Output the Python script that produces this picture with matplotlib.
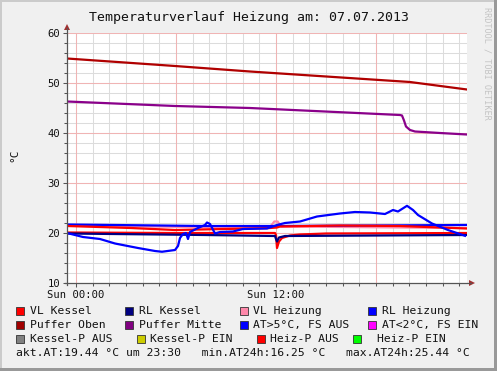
import numpy as np
import matplotlib
matplotlib.use("Agg")
import matplotlib.pyplot as plt
from matplotlib.patches import Rectangle, Polygon
from matplotlib.lines import Line2D

plt.rcParams['font.family'] = ['DejaVu Sans Mono', 'DejaVu Sans']

# ---------------- data (hours of the day, °C) ----------------
title = "Temperaturverlauf Heizung am: 07.07.2013"
x_tick_pos = [0, 12]
x_tick_labels = ["Sun 00:00", "Sun 12:00"]
y_ticks = [10, 20, 30, 40, 50, 60]

puffer_oben_t = [-0.54, 5.94, 10.44, 20.04, 23.46]
puffer_oben_v = [54.9, 53.4, 52.3, 50.2, 48.7]

puffer_mitte_t = [-0.54, 5.94, 10.44, 19.44, 19.56, 19.68, 19.80, 20.04, 20.34, 21.84, 23.46]
puffer_mitte_v = [46.3, 45.4, 45.0, 43.6, 43.5, 42.5, 41.3, 40.6, 40.3, 40.0, 39.7]

aussen_t = [-0.54, 0.42, 1.44, 2.34, 3.72, 4.74, 5.16, 5.94, 6.12, 6.24, 6.42, 6.60, 6.72,
            6.84, 7.32, 7.74, 7.86, 8.04, 8.34, 8.64, 9.42, 10.02, 11.46, 12.06, 12.54,
            13.44, 14.46, 15.84, 16.74, 17.64, 18.54, 19.02, 19.32, 19.86, 20.22, 20.52,
            21.36, 22.32, 23.34]
aussen_v = [20.0, 19.2, 18.8, 17.9, 17.0, 16.4, 16.25, 16.6, 17.4, 19.0, 19.8, 20.0, 18.8,
            20.2, 21.0, 21.6, 22.1, 21.8, 19.9, 20.2, 20.3, 20.8, 20.9, 21.6, 22.0,
            22.3, 23.3, 23.9, 24.2, 24.1, 23.8, 24.6, 24.3, 25.44, 24.6, 23.6,
            21.9, 20.6, 19.44]

vl_heizung_t = [-0.54, 11.6, 11.9, 12.1, 12.3, 23.46]
vl_heizung_v = [21.5, 21.0, 22.3, 22.3, 21.3, 21.0]

vl_kessel_t = [-0.54, 6.0, 11.94, 12.0, 12.06, 12.18, 12.36, 12.84, 13.44, 15.0, 23.46]
vl_kessel_v = [20.1, 20.0, 20.0, 19.6, 17.0, 18.3, 19.0, 19.5, 19.7, 19.9, 20.0]

rl_kessel_t = [-0.54, 7.74, 11.94, 12.0, 12.06, 12.18, 12.54, 23.46]
rl_kessel_v = [19.9, 19.6, 19.4, 18.8, 18.3, 19.1, 19.4, 19.6]

rl_heizung_t = [-0.54, 7.74, 12.0, 23.46]
rl_heizung_v = [21.7, 21.4, 21.4, 21.6]

heiz_vl_t = [-0.54, 3.3, 5.94, 7.44, 10.44, 11.64, 12.06, 12.24, 15.84, 19.44, 23.46]
heiz_vl_v = [21.4, 21.0, 20.6, 20.7, 20.9, 21.0, 21.1, 21.3, 21.5, 21.4, 20.9]

legend_rows = [
    [("VL Kessel", "#FF0000"), ("RL Kessel", "#000080"), ("VL Heizung", "#FF88AA"), ("RL Heizung", "#0000FF")],
    [("Puffer Oben", "#A00000"), ("Puffer Mitte", "#800080"), ("AT>5°C, FS AUS", "#0000FF"), ("AT<2°C, FS EIN", "#FF00FF")],
    [("Kessel-P AUS", "#808080"), ("Kessel-P EIN", "#CCCC00"), ("Heiz-P AUS", "#FF0000"), ("Heiz-P EIN", "#00FF00")],
]
summary = "akt.AT:19.44 °C um 23:30   min.AT24h:16.25 °C   max.AT24h:25.44 °C"

# ---------------- figure ----------------
W, H = 497, 371
fig = plt.figure(figsize=(W / 100, H / 100), dpi=100, facecolor="#F0F0F0")

def fx(px):
    return px / W

def fy(py):
    return 1 - py / H

# 3D-ish border
fig.add_artist(Rectangle((0, fy(2)), 1, 2 / H, transform=fig.transFigure, color="#CBCBCB", lw=0))
fig.add_artist(Rectangle((0, 0), 2 / W, 1, transform=fig.transFigure, color="#CBCBCB", lw=0))
fig.add_artist(Rectangle((0, 0), 1, 3 / H, transform=fig.transFigure, color="#999999", lw=0))
fig.add_artist(Rectangle((1 - 3 / W, 0), 3 / W, 1, transform=fig.transFigure, color="#999999", lw=0))

L, R, T, B = 67, 467, 33, 283
ax = fig.add_axes([fx(L), fy(B), (R - L) / W, (B - T) / H])
ax.set_facecolor("white")
ax.set_xlim(-0.54, 23.46)
ax.set_ylim(10, 60)

# grid
for h in np.arange(0, 24, 1):
    ax.axvline(h, color="#DCDCDC", lw=0.75, zorder=0)
for v in np.arange(12, 60, 2):
    ax.axhline(v, color="#DCDCDC", lw=0.75, zorder=0)
for h in np.arange(0, 24, 6):
    ax.axvline(h, color="#F0B4B4", lw=0.75, zorder=0.5)
for v in np.arange(20, 61, 10):
    ax.axhline(v, color="#F0B4B4", lw=0.75, zorder=0.5)

lw = 1.6
ax.plot(vl_heizung_t, vl_heizung_v, color="#FF88AA", lw=lw, zorder=2)
ax.plot(vl_kessel_t, vl_kessel_v, color="#FF0000", lw=lw, zorder=2)
ax.plot(rl_kessel_t, rl_kessel_v, color="#000080", lw=lw, zorder=2)
ax.plot(rl_heizung_t, rl_heizung_v, color="#0000FF", lw=lw, zorder=2)
ax.plot(heiz_vl_t, heiz_vl_v, color="#FF0000", lw=lw, zorder=2)
ax.plot(aussen_t, aussen_v, color="#0000FF", lw=lw, zorder=3)
ax.plot(puffer_oben_t, puffer_oben_v, color="#B00000", lw=lw, zorder=3)
ax.plot(puffer_mitte_t, puffer_mitte_v, color="#8A008A", lw=lw, zorder=3)

for s in ax.spines.values():
    s.set_visible(False)

ax.set_yticks(y_ticks)
ax.set_yticks(np.arange(10, 61, 2), minor=True)
ax.set_xticks(x_tick_pos)
ax.set_xticklabels(x_tick_labels)
ax.set_xticks(np.arange(0, 24, 1), minor=True)
ax.tick_params(axis="both", which="major", length=3, width=0.75, color="#555555",
               labelsize=7.6, pad=2, labelcolor="#111111")
ax.tick_params(axis="both", which="minor", length=2, width=0.75, color="#555555")

# axes lines with arrows (figure pixel coords)
fig.add_artist(Line2D([fx(L), fx(L)], [fy(B + 2), fy(28)], transform=fig.transFigure,
                      color="#555555", lw=0.9))
fig.add_artist(Line2D([fx(L - 2), fx(471)], [fy(B), fy(B)], transform=fig.transFigure,
                      color="#555555", lw=0.9))
fig.add_artist(Polygon([(fx(L - 3), fy(30)), (fx(L + 3), fy(30)), (fx(L), fy(24))],
                       closed=True, transform=fig.transFigure, color="#A03030", lw=0))
fig.add_artist(Polygon([(fx(469), fy(B - 3)), (fx(469), fy(B + 3)), (fx(475), fy(B))],
                       closed=True, transform=fig.transFigure, color="#A03030", lw=0))

# title, axis label, watermark
fig.text(fx(249), fy(17), title, ha="center", va="center", fontsize=9.5, color="#111111")
fig.text(fx(14), fy(155), "°C", ha="center", va="center", rotation=90, fontsize=8, color="#111111")
fig.text(fx(487), fy(7), "RRDTOOL / TOBI OETIKER", ha="center", va="top", rotation=270,
         fontsize=6.1, color="#C4C4C4")

# legend
row_y = [311, 325, 339]
col_x = [[16, 125, 240, 368], [16, 125, 240, 368], [16, 137, 257, 353]]
text_dx = [[14, 14, 13, 14], [14, 14, 13, 14], [14, 13, 13, 24]]
for r, row in enumerate(legend_rows):
    for c, (lab, col) in enumerate(row):
        x0 = col_x[r][c]
        y0 = row_y[r]
        fig.add_artist(Rectangle((fx(x0), fy(y0 + 4)), 8 / W, 8 / H, transform=fig.transFigure,
                                 facecolor=col, edgecolor="#333333", lw=0.6))
        fig.text(fx(x0 + text_dx[r][c]), fy(y0), lab, ha="left", va="center",
                 fontsize=8.2, color="#111111")
fig.text(fx(16), fy(353), summary, ha="left", va="center", fontsize=8.2, color="#111111")

fig.savefig("out.png", dpi=100, facecolor=fig.get_facecolor())
